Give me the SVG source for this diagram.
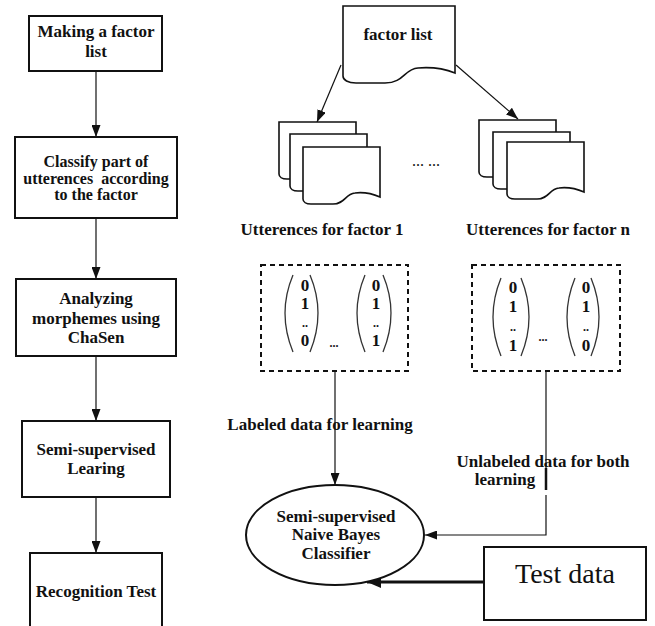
<svg xmlns="http://www.w3.org/2000/svg" width="655" height="626" viewBox="0 0 655 626">
<defs>
<style>
.box{fill:#fff;stroke:#111;stroke-width:2}
.doc{fill:#fff;stroke:#111;stroke-width:1.6}
.dash{fill:none;stroke:#111;stroke-width:2;stroke-dasharray:5 4}
.ln{fill:none;stroke:#111;stroke-width:1.2}
.par{fill:none;stroke:#333;stroke-width:1.3}
.t{font-family:"Liberation Serif","Times New Roman",serif;font-weight:bold;font-size:17px;fill:#111;text-anchor:middle}
.d{font-family:"Liberation Serif","Times New Roman",serif;font-weight:bold;font-size:17px;fill:#111;text-anchor:middle}
.dd{font-family:"Liberation Serif","Times New Roman",serif;font-weight:bold;font-size:12px;fill:#111;text-anchor:middle}
.e{font-family:"Liberation Serif","Times New Roman",serif;font-weight:bold;font-size:12px;fill:#111;text-anchor:middle}
</style>
<marker id="ah" viewBox="0 0 12 9" refX="12" refY="4.5" markerWidth="12" markerHeight="9" markerUnits="userSpaceOnUse" orient="auto">
<path d="M0,0 L12,4.5 L0,9 Z" fill="#111"/>
</marker>
<marker id="ahb" viewBox="0 0 14 12" refX="14" refY="6" markerWidth="14" markerHeight="12" markerUnits="userSpaceOnUse" orient="auto">
<path d="M0,0 L14,6 L0,12 Z" fill="#111"/>
</marker>
<path id="docp" d="M0,0 H77 V50 C70,47 60,45 52,46 C42,47 42,57 30,57 H8 C3,57 0,55 0,52 Z"/>
</defs>

<g id="connectors">
<line class="ln" x1="96" y1="71" x2="96" y2="137" marker-end="url(#ah)"/>
<line class="ln" x1="96" y1="218" x2="96" y2="279" marker-end="url(#ah)"/>
<line class="ln" x1="96" y1="356" x2="96" y2="421" marker-end="url(#ah)"/>
<line class="ln" x1="96" y1="497" x2="96" y2="553" marker-end="url(#ah)"/>
<line class="ln" x1="341" y1="65" x2="317" y2="122" marker-end="url(#ah)"/>
<line class="ln" x1="456" y1="65" x2="518" y2="119" marker-end="url(#ah)"/>
<line class="ln" x1="335" y1="371" x2="335" y2="485" marker-end="url(#ah)"/>
<polyline class="ln" points="546,371 546,490"/>
<line x1="546" y1="468" x2="546" y2="490" stroke="#111" stroke-width="2.5"/>
<polyline class="ln" points="546,495 546,535 425,535" marker-end="url(#ah)"/>
<line x1="484" y1="582" x2="367" y2="582" stroke="#111" stroke-width="3" marker-end="url(#ahb)"/>
</g>

<g id="n1"><rect class="box" x="29" y="16" width="133" height="55"/>
<text class="t" x="96" y="37">Making a factor</text><text class="t" x="96" y="57">list</text></g>
<g id="n2"><rect class="box" x="15" y="137" width="162" height="81"/>
<text class="t" x="96" y="167" style="font-size:16px">Classify part of</text>
<text class="t" x="96" y="184" style="font-size:16px" xml:space="preserve">utterences  according</text>
<text class="t" x="96" y="200" style="font-size:16px">to the factor</text></g>
<g id="n3"><rect class="box" x="16" y="279" width="160" height="77"/>
<text class="t" x="96" y="304">Analyzing</text><text class="t" x="96" y="324">morphemes using</text><text class="t" x="96" y="343">ChaSen</text></g>
<g id="n4"><rect class="box" x="22" y="421" width="148" height="76"/>
<text class="t" x="96" y="455">Semi-supervised</text><text class="t" x="96" y="474">Learing</text></g>
<g id="n5"><rect class="box" x="30" y="553" width="132" height="80"/>
<text class="t" x="96" y="597">Recognition Test</text></g>

<g id="factorlist">
<path class="doc" d="M343,6 H455 V73 C445,69 430,67 418,68 C404,69 404,83 385,83 H356 C348,83 343,80 343,76 Z"/>
<text class="t" x="398" y="40">factor list</text></g>

<g id="utt1">
<use href="#docp" class="doc" x="279" y="122"/>
<use href="#docp" class="doc" x="290" y="134"/>
<use href="#docp" class="doc" x="303" y="147"/>
<text class="t" x="322" y="235">Utterences for factor 1</text></g>
<g id="uttn">
<use href="#docp" class="doc" x="479" y="120"/>
<use href="#docp" class="doc" x="493" y="132"/>
<use href="#docp" class="doc" x="507" y="142"/>
<text class="t" x="548" y="235">Utterences for factor n</text></g>
<text x="426" y="166" style="font-family:'Liberation Serif',serif;font-size:16px;text-anchor:middle;fill:#111">... ...</text>

<g id="vec1">
<rect class="dash" x="261" y="265" width="147" height="106"/>
<path class="par" d="M293,275 Q277,313 293,352"/><path class="par" d="M310,275 Q326,313 310,352"/>
<text class="d" x="305" y="291">0</text><text class="d" x="305" y="309">1</text><text class="dd" x="305" y="327">..</text><text class="d" x="305" y="346">0</text>
<text class="e" x="334" y="347">...</text>
<path class="par" d="M365,275 Q349,313 365,352"/><path class="par" d="M383,275 Q399,313 383,352"/>
<text class="d" x="376" y="291">0</text><text class="d" x="376" y="309">1</text><text class="dd" x="376" y="327">..</text><text class="d" x="376" y="346">1</text>
</g>
<g id="vecn">
<rect class="dash" x="472" y="265" width="148" height="106"/>
<path class="par" d="M501,278 Q485,317 501,356"/><path class="par" d="M521,278 Q537,317 521,356"/>
<text class="d" x="513" y="293">0</text><text class="d" x="513" y="312">1</text><text class="dd" x="513" y="331">..</text><text class="d" x="513" y="351">1</text>
<text class="e" x="543" y="341">...</text>
<path class="par" d="M575,278 Q559,317 575,356"/><path class="par" d="M591,278 Q607,317 591,356"/>
<text class="d" x="586" y="293">0</text><text class="d" x="586" y="312">1</text><text class="dd" x="586" y="331">..</text><text class="d" x="586" y="351">0</text>
</g>

<text class="t" x="320" y="430">Labeled data for learning</text>
<text class="t" x="543" y="467">Unlabeled data for both</text>
<text class="t" x="505" y="485">learning</text>

<g id="classifier">
<ellipse class="box" cx="335" cy="535" rx="89" ry="50"/>
<text class="t" x="336" y="522">Semi-supervised</text><text class="t" x="336" y="540">Naive Bayes</text><text class="t" x="336" y="559">Classifier</text></g>

<g id="testdata">
<rect class="box" x="484" y="547" width="162" height="73"/>
<text x="565" y="583" style="font-family:'Liberation Serif','Times New Roman',serif;font-size:28px;fill:#111;text-anchor:middle">Test data</text></g>
</svg>
